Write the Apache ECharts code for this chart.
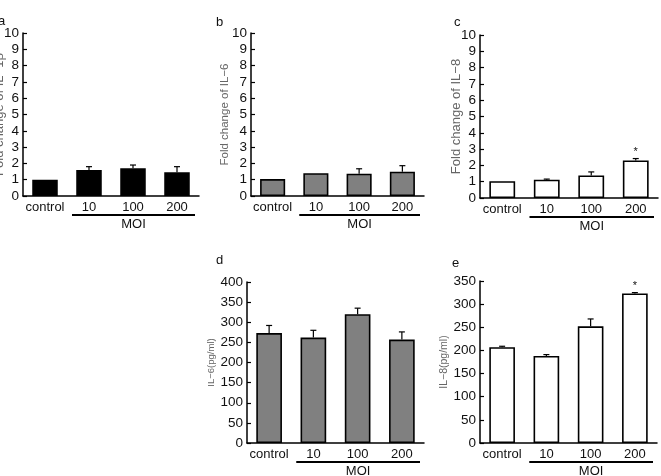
<!DOCTYPE html>
<html>
<head>
<meta charset="utf-8">
<script src="https://cdn.jsdelivr.net/npm/echarts@6/dist/echarts.min.js"></script>
<style>
  html, body { margin: 0; padding: 0; background: #fff; }
  #main { width: 661px; height: 476px; }
</style>
</head>
<body>
<div id="main"></div>
<script>
// 数据
const categories = ['control', '10', '100', '200'];

const il1bFold = [1.0, 1.6, 1.7, 1.45];
const il1bFoldErr = [0, 0.2, 0.2, 0.35];

const il6Fold = [1.04, 1.4, 1.37, 1.49];
const il6FoldErr = [0, 0, 0.3, 0.37];

const il8Fold = [1.03, 1.12, 1.38, 2.3];
const il8FoldErr = [0, 0.04, 0.22, 0.12];
const il8FoldSig = ['', '', '', '*'];

const il6Conc = [273, 262, 320, 257];
const il6ConcErr = [19, 18, 15, 19];

const il8Conc = [207, 188, 252, 323];
const il8ConcErr = [2, 3, 16, 2];
const il8ConcSig = ['', '', '', '*'];

const foldTicks = { max: 10, interval: 1 };
const il6ConcTicks = { max: 400, interval: 50 };
const il8ConcTicks = { max: 350, interval: 50 };

const FONT = '"Liberation Sans", Arial, sans-serif';
const NARROW = '"Liberation Sans Narrow", "Liberation Sans", Arial, sans-serif';

// 每个小图的位置
const panels = [
    { letter: 'a', grid: { left: 23, top: 33, width: 176, height: 163 }, values: il1bFold, errs: il1bFoldErr, sig: null, ticks: foldTicks,
      name: 'Fold change of IL−1β', nameSize: 13, nameGap: 17, barColor: '#000', letterPos: [-2, 28] },
    { letter: 'b', grid: { left: 251, top: 33, width: 173, height: 163 }, values: il6Fold, errs: il6FoldErr, sig: null, ticks: foldTicks,
      name: 'Fold change of IL−6', nameSize: 11.5, nameGap: 20, barColor: '#808080', letterPos: [216, 29] },
    { letter: 'c', grid: { left: 480, top: 35, width: 178, height: 163 }, values: il8Fold, errs: il8FoldErr, sig: il8FoldSig, ticks: foldTicks,
      name: 'Fold change of IL−8', nameSize: 13, nameGap: 17, barColor: '#fff', letterPos: [454, 29] },
    { letter: 'd', grid: { left: 247, top: 282, width: 177, height: 161 }, values: il6Conc, errs: il6ConcErr, sig: null, ticks: il6ConcTicks,
      name: 'IL−6(pg/ml)', nameSize: 9.5, nameGap: 31, barColor: '#808080', letterPos: [216, 267] },
    { letter: 'e', grid: { left: 480, top: 281, width: 177, height: 162 }, values: il8Conc, errs: il8ConcErr, sig: il8ConcSig, ticks: il8ConcTicks,
      name: 'IL−8(pg/ml)', nameSize: 10.5, nameGap: 30, barColor: '#fff', letterPos: [452, 270] }
];

let grids = [], xAxes = [], yAxes = [], series = [], graphics = [];

panels.forEach(function (p, k) {
    grids.push(Object.assign({ outerBoundsMode: 'none', containLabel: false }, p.grid));
    xAxes.push({
        type: 'category',
        gridIndex: k,
        data: categories,
        boundaryGap: true,
        axisLine: { lineStyle: { color: '#000', width: 1.5 } },
        axisTick: { inside: true, length: 3, lineStyle: { color: '#000', width: 1.2 } },
        axisLabel: { interval: 0, color: '#111', fontSize: 13, fontFamily: FONT, margin: 5 },
        splitLine: { show: false }
    });
    yAxes.push({
        type: 'value',
        gridIndex: k,
        min: 0,
        max: p.ticks.max,
        interval: p.ticks.interval,
        name: p.name,
        nameLocation: 'middle',
        nameGap: p.nameGap,
        nameMoveOverlap: false,
        nameTextStyle: { color: '#666', fontSize: p.nameSize, fontFamily: FONT },
        axisLine: { show: true, lineStyle: { color: '#000', width: 1.5 } },
        axisTick: { show: true, inside: true, length: 4, lineStyle: { color: '#000', width: 1.2 } },
        axisLabel: { color: '#111', fontSize: 13.5, fontFamily: NARROW, margin: 4 },
        splitLine: { show: false }
    });
    series.push({
        type: 'bar',
        xAxisIndex: k,
        yAxisIndex: k,
        barWidth: '58%',
        data: p.values,
        itemStyle: { color: p.barColor, borderColor: '#000', borderWidth: 1.6 },
        silent: true
    });
    // 误差线
    let errData = p.values.map(function (v, i) { return [i, v, p.errs[i], p.sig ? p.sig[i] : '']; });
    series.push({
        type: 'custom',
        xAxisIndex: k,
        yAxisIndex: k,
        data: errData,
        z: 5,
        silent: true,
        renderItem: function (params, api) {
            let i = api.value(0), v = api.value(1), e = api.value(2);
            let sig = errData[params.dataIndex][3];
            let base = api.coord([i, v]);
            let top = api.coord([i, v + e]);
            let children = [];
            if (e > 0) {
                children.push({ type: 'line', shape: { x1: base[0], y1: base[1], x2: top[0], y2: top[1] },
                    style: { stroke: '#000', lineWidth: 1.2 } });
                children.push({ type: 'line', shape: { x1: top[0] - 3, y1: top[1], x2: top[0] + 3, y2: top[1] },
                    style: { stroke: '#000', lineWidth: 1.2 } });
            }
            if (sig) {
                children.push({ type: 'text', x: top[0], y: top[1] - 1,
                    style: { text: sig, fill: '#111', font: '11px ' + FONT, align: 'center', verticalAlign: 'bottom' } });
            }
            return { type: 'group', children: children };
        }
    });

    // MOI 下划线和文字
    let g = p.grid;
    let bottom = g.top + g.height;
    let x1 = g.left + g.width / 4 + 5;
    let x2 = g.left + g.width - 4;
    graphics.push({ type: 'line', shape: { x1: x1, y1: bottom + 19, x2: x2, y2: bottom + 19 },
        style: { stroke: '#000', lineWidth: 2 }, silent: true });
    graphics.push({ type: 'text', x: (x1 + x2) / 2, y: bottom + 28,
        style: { text: 'MOI', fill: '#111', font: '13px ' + FONT, align: 'center', verticalAlign: 'middle' }, silent: true });
    // 小图字母
    graphics.push({ type: 'text', x: p.letterPos[0], y: p.letterPos[1],
        style: { text: p.letter, fill: '#111', font: '13px ' + FONT, align: 'left', verticalAlign: 'bottom' }, silent: true });
});

let myChart = echarts.init(document.getElementById('main'));
let option = {
    backgroundColor: '#fff',
    animation: false,
    grid: grids,
    xAxis: xAxes,
    yAxis: yAxes,
    series: series,
    graphic: graphics
};
myChart.setOption(option);
</script>
</body>
</html>
